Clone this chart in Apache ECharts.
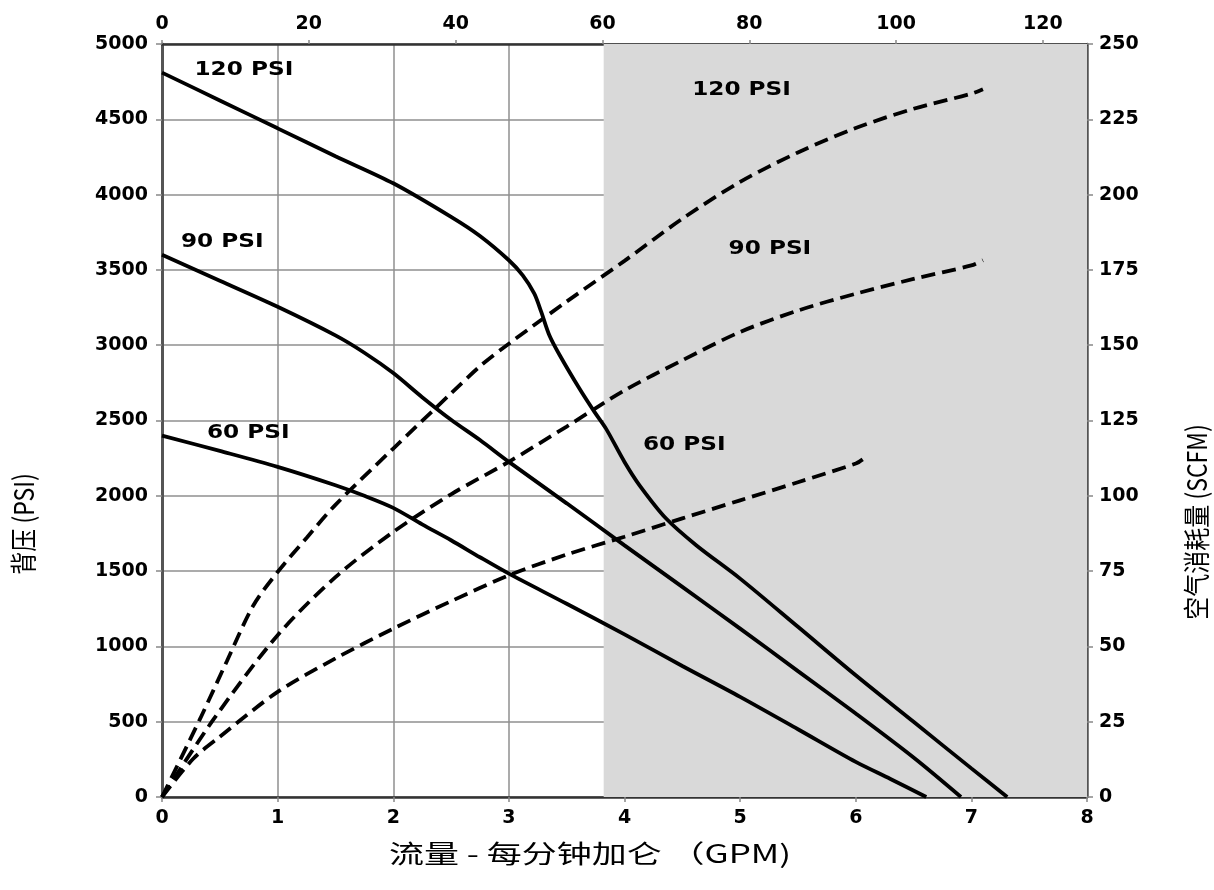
<!DOCTYPE html>
<html><head><meta charset="utf-8">
<script src="https://cdn.jsdelivr.net/npm/echarts@6/dist/echarts.min.js"></script>
<style>html,body{margin:0;padding:0;background:#fff}#c{width:1214px;height:890px}</style>
</head><body><div id="c"></div>
<script>
// Flow (GPM) vs back pressure (PSI) — solid curves, left axis
const pressure120 = [[0,4810],[0.5,4625],[1,4440],[1.5,4255],[2,4075],[2.5,3852],[2.75,3725],[3,3564],[3.12,3464],[3.22,3343],[3.28,3221],[3.35,3066],[3.44,2933],[3.61,2712],[3.74,2557],[3.84,2446],[4,2225],[4.13,2070],[4.36,1849],[4.62,1672],[5,1450],[5.5,1130],[6,808],[6.5,499],[7,190],[7.31,0]];
const pressure90  = [[0,3600],[0.5,3428],[1,3255],[1.5,3065],[1.75,2950],[2,2815],[2.25,2655],[2.5,2505],[2.75,2370],[3,2225],[3.5,1950],[4,1671],[4.5,1395],[5,1118],[5.5,836],[6,554],[6.5,262],[6.91,0]];
const pressure60  = [[0,2400],[0.5,2298],[1,2192],[1.5,2070],[1.75,2000],[2,1920],[2.25,1810],[2.5,1705],[2.75,1592],[3,1483],[3.5,1283],[4,1080],[4.5,870],[5,665],[5.5,450],[6,233],[6.3,120],[6.61,0]];
// Flow (GPM) vs air consumption (SCFM) — dashed curves, right axis
const air120 = [[0,0],[0.33,26],[0.56,45],[0.79,63.6],[1,74.7],[1.25,86],[1.5,97],[2,115.7],[2.5,134],[2.75,143],[3,150.5],[3.5,164.5],[4,178],[4.5,192],[5,204.2],[5.5,214],[6,222.1],[6.5,228.5],[7,233.5],[7.1,235]];
const air90  = [[0,0],[0.45,26],[1,53.7],[1.5,73],[2,88],[2.5,100.5],[3,111.3],[3.5,123],[4,135],[4.5,145],[5,154.4],[5.5,161.5],[6,167.1],[6.5,172],[7,176.5],[7.1,178.2]];
const air60  = [[0,0],[0.27,12.7],[0.5,20],[1,34.9],[1.5,46],[2,55.9],[2.5,65],[3,73.6],[3.5,80.5],[4,86.4],[4.5,92.5],[5,98.5],[5.5,104.5],[6,110.7],[6.06,112.1]];
// Shaded region (GPM)
const shadeRange = [3.82, 8];
// Curve labels: [gpm, psi, text]
const curveLabels = [[0.281,4828,'120 PSI'],[0.164,3686,'90 PSI'],[0.389,2417,'60 PSI'],[4.585,4693,'120 PSI'],[4.90,3637,'90 PSI'],[4.159,2335,'60 PSI']];
// Axis titles
const xTitle = '流量 - 每分钟加仑 （GPM)';
const yTitleLeft = '背压 (PSI)';
const yTitleRight = '空气消耗量 (SCFM)';

const chart = echarts.init(document.getElementById('c'), null, {renderer:'canvas'});
const plain = v => String(v);
const lblFont = {fontFamily:'DejaVu Sans', fontWeight:'bold', fontSize:19, color:'#000'};
const gridColor = '#8f8f8f';
const solid = (name, data) => ({name, type:'line', data, symbol:'none', smooth:0.3, xAxisIndex:0, yAxisIndex:0, z:3,
  lineStyle:{color:'#000', width:3.8}});
const dashed = (name, data) => ({name, type:'line', data, symbol:'none', smooth:0.3, xAxisIndex:0, yAxisIndex:1, z:3,
  lineStyle:{color:'#000', width:3.8, type:[14,7]}});

chart.setOption({
  animation:false,
  backgroundColor:'#fff',
  grid:{left:162, right:127, top:44, bottom:93},
  xAxis:[
    {type:'value', position:'bottom', min:0, max:8, interval:1,
     axisLine:{show:true, onZero:false, lineStyle:{color:'#333', width:2.5}},
     axisTick:{show:true, length:5, lineStyle:{color:'#888', width:1.5}},
     axisLabel:Object.assign({margin:12, formatter:plain}, lblFont),
     splitLine:{show:true, lineStyle:{color:gridColor, width:1.5}}},
    {type:'value', position:'top', min:0, max:126, interval:20,
     axisLine:{show:true, onZero:false, lineStyle:{color:'#333', width:2.5}},
     axisTick:{show:true, length:4, lineStyle:{color:'#888', width:1.5}},
     axisLabel:Object.assign({margin:10, showMaxLabel:false, formatter:v=> (v%20===0? String(v):'')}, lblFont),
     splitLine:{show:false}}
  ],
  yAxis:[
    {type:'value', position:'left', min:0, max:5000, interval:500,
     axisLine:{show:true, onZero:false, lineStyle:{color:'#555', width:3}},
     axisTick:{show:true, length:6, lineStyle:{color:'#888', width:1.5}},
     axisLabel:Object.assign({margin:14, formatter:plain}, lblFont),
     splitLine:{show:true, lineStyle:{color:gridColor, width:1.5}}},
    {type:'value', position:'right', min:0, max:250, interval:25,
     axisLine:{show:true, onZero:false, lineStyle:{color:'#555', width:2.5}},
     axisTick:{show:true, length:6, lineStyle:{color:'#888', width:1.5}},
     axisLabel:Object.assign({margin:12, formatter:plain}, lblFont),
     splitLine:{show:false}}
  ],
  series:[
    {name:'shade', type:'line', data:[[shadeRange[0],0]], symbol:'none', lineStyle:{opacity:0}, z:-1, silent:true,
     markArea:{silent:true, itemStyle:{color:'#d9d9d9'}, data:[[{xAxis:shadeRange[0]},{xAxis:shadeRange[1]}]]}},
    solid('p120', pressure120), solid('p90', pressure90), solid('p60', pressure60),
    dashed('a120', air120), dashed('a90', air90), dashed('a60', air60)
  ]
});

const g = curveLabels.map(([x,y,t]) => {
  const p = chart.convertToPixel({xAxisIndex:0, yAxisIndex:0}, [x,y]);
  return {type:'text', x:p[0], y:p[1], scaleX:1.22, z:10,
    style:{text:t, fontFamily:'DejaVu Sans', fontWeight:'bold', fontSize:19, fill:'#000', align:'left', verticalAlign:'middle', textAlign:'left', textVerticalAlign:'middle'}};
});
const cjk = 'Noto Sans CJK SC';
g.push({type:'text', x:590, y:853, scaleX:1.4, z:10,
  style:{text:xTitle, fontFamily:cjk, fontSize:25, fill:'#000', align:'center', verticalAlign:'middle', textAlign:'center', textVerticalAlign:'middle'}});
g.push({type:'text', x:24, y:524, rotation:Math.PI/2, scaleY:1.2, z:10,
  style:{text:yTitleLeft, fontFamily:cjk, fontSize:23, fill:'#000', align:'center', verticalAlign:'middle', textAlign:'center', textVerticalAlign:'middle'}});
g.push({type:'text', x:1197, y:522, rotation:Math.PI/2, scaleY:1.2, z:10,
  style:{text:yTitleRight, fontFamily:cjk, fontSize:23, fill:'#000', align:'center', verticalAlign:'middle', textAlign:'center', textVerticalAlign:'middle'}});
chart.setOption({graphic:g});
</script></body></html>
